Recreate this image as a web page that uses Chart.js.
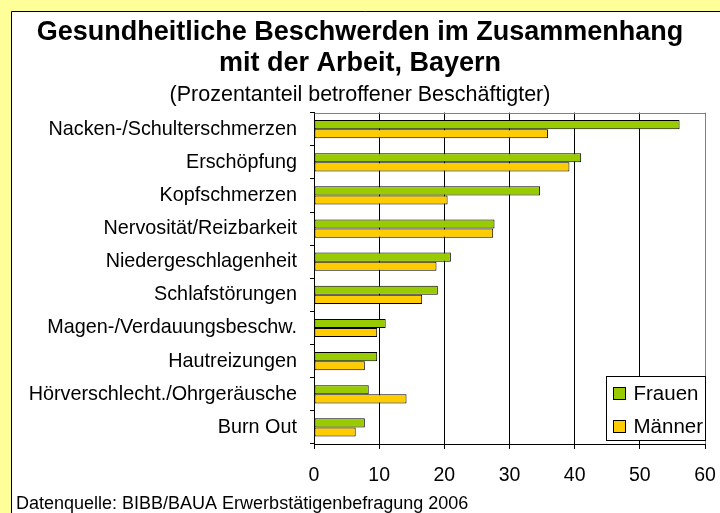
<!DOCTYPE html>
<html>
<head>
<meta charset="utf-8">
<script src="https://cdn.jsdelivr.net/npm/chart.js@4.4.1/dist/chart.umd.min.js"></script>
<style>
  html, body { margin: 0; padding: 0; background: #ffff99; }
  canvas { display: block; }
</style>
</head>
<body>
<canvas id="chart" width="720" height="513"></canvas>
<script>
// Gesundheitliche Beschwerden - Prozentanteil betroffener Beschäftigter
const categories = [
    'Nacken-/Schulterschmerzen',
    'Erschöpfung',
    'Kopfschmerzen',
    'Nervosität/Reizbarkeit',
    'Niedergeschlagenheit',
    'Schlafstörungen',
    'Magen-/Verdauungsbeschw.',
    'Hautreizungen',
    'Hörverschlecht./Ohrgeräusche',
    'Burn Out'
];
const frauen = [56.1, 41.0, 34.7, 27.7, 21.0, 19.0, 11.0, 9.7, 8.4, 7.8];
const maenner = [35.9, 39.2, 20.5, 27.5, 18.8, 16.6, 9.7, 7.8, 14.2, 6.4];
const xTicks = [0, 10, 20, 30, 40, 50, 60];

const FONT = "'Liberation Sans', Arial, sans-serif";
const footerText = 'Datenquelle: BIBB/BAUA Erwerbstätigenbefragung 2006';

// background: yellow margin + white panel with black border
const panelBg = {
    id: 'panelBg',
    beforeDraw(chart) {
        const ctx = chart.ctx;
        ctx.save();
        ctx.fillStyle = '#ffff99';
        ctx.fillRect(0, 0, chart.width, chart.height);
        ctx.fillStyle = '#ffffff';
        ctx.fillRect(11, 11, chart.width, chart.height);
        ctx.strokeStyle = '#000';
        ctx.lineWidth = 1;
        ctx.beginPath();
        ctx.moveTo(11.5, chart.height);
        ctx.lineTo(11.5, 11.5);
        ctx.lineTo(chart.width, 11.5);
        ctx.stroke();
        ctx.restore();
    },
    beforeDatasetsDraw(chart) {
        // grey plot-area border, top and right
        const a = chart.chartArea;
        const ctx = chart.ctx;
        ctx.save();
        ctx.strokeStyle = '#808080';
        ctx.lineWidth = 1;
        ctx.beginPath();
        ctx.moveTo(Math.round(a.left) + 0.5, Math.round(a.top) + 0.5);
        ctx.lineTo(Math.round(a.right) + 0.5, Math.round(a.top) + 0.5);
        ctx.lineTo(Math.round(a.right) + 0.5, Math.round(a.bottom));
        ctx.stroke();
        ctx.restore();
    },
    afterDraw(chart) {
        const ctx = chart.ctx;
        const a = chart.chartArea;
        ctx.save();
        // legend inside plot area, bottom right
        const boxW = 99, boxH = 64;
        const bx = Math.round(a.right) - boxW + 0.5;
        const by = Math.round(a.bottom) - 4 - boxH + 0.5;
        ctx.fillStyle = '#fff';
        ctx.fillRect(bx, by, boxW, boxH);
        ctx.strokeStyle = '#000';
        ctx.lineWidth = 1;
        ctx.strokeRect(bx, by, boxW, boxH);
        ctx.font = '20.5px ' + FONT;
        ctx.textBaseline = 'middle';
        chart.data.datasets.forEach((ds, i) => {
            const cy = by + 17 + i * 33;
            ctx.fillStyle = ds.backgroundColor;
            ctx.fillRect(bx + 7, cy - 6, 12, 12);
            ctx.strokeRect(bx + 7, cy - 6, 12, 12);
            ctx.fillStyle = '#000';
            ctx.fillText(ds.label, bx + 27, cy + 1);
        });
        // source note
        ctx.font = '18px ' + FONT;
        ctx.fillStyle = '#000';
        ctx.fillText(footerText, 16, 504);
        ctx.restore();
    }
};

new Chart(document.getElementById('chart'), {
    type: 'bar',
    data: {
        labels: categories,
        datasets: [{
            label: 'Frauen',
            data: frauen,
            backgroundColor: '#99cc00',
            borderColor: '#000',
            borderWidth: 1,
            borderSkipped: false,
            categoryPercentage: 0.55,
            barPercentage: 1.0
        }, {
            label: 'Männer',
            data: maenner,
            backgroundColor: '#ffcc00',
            borderColor: '#000',
            borderWidth: 1,
            borderSkipped: false,
            categoryPercentage: 0.55,
            barPercentage: 1.0
        }]
    },
    options: {
        indexAxis: 'y',
        responsive: false,
        animation: false,
        devicePixelRatio: 1,
        layout: { padding: { left: 15, right: 15, top: 0, bottom: 24 } },
        plugins: {
            legend: { display: false },
            tooltip: { enabled: false },
            title: {
                display: true,
                text: ['Gesundheitliche Beschwerden im Zusammenhang', 'mit der Arbeit, Bayern'],
                color: '#000',
                font: { family: FONT, size: 27, weight: 'bold', lineHeight: 1.15 },
                padding: { top: 17, bottom: 0 }
            },
            subtitle: {
                display: true,
                text: '(Prozentanteil betroffener Beschäftigter)',
                color: '#000',
                font: { family: FONT, size: 21.5, lineHeight: 1.0 },
                padding: { top: 5, bottom: 7 }
            }
        },
        scales: {
            x: {
                min: 0,
                max: 60,
                afterBuildTicks: (scale) => { scale.ticks = xTicks.map(v => ({ value: v })); },
                afterFit: (scale) => {
                    scale.height = 45;
                    scale.paddingLeft = 0;
                    scale.paddingRight = 0;
                },
                border: { display: true, color: '#000', width: 1 },
                grid: {
                    color: (c) => (c.tick && c.tick.value === 60) ? '#808080' : '#000',
                    tickColor: '#000',
                    tickLength: 5,
                    lineWidth: 1
                },
                ticks: {
                    color: '#000',
                    padding: 15,
                    font: { family: FONT, size: 19.5 }
                }
            },
            y: {
                afterFit: (scale) => { scale.width = 299; },
                border: { display: true, color: '#000', width: 1 },
                grid: {
                    drawOnChartArea: false,
                    tickColor: '#000',
                    tickLength: 4
                },
                ticks: {
                    color: '#000',
                    padding: 13,
                    autoSkip: false,
                    font: { family: FONT, size: 19.8 }
                }
            }
        }
    },
    plugins: [panelBg]
});
</script>
</body>
</html>
